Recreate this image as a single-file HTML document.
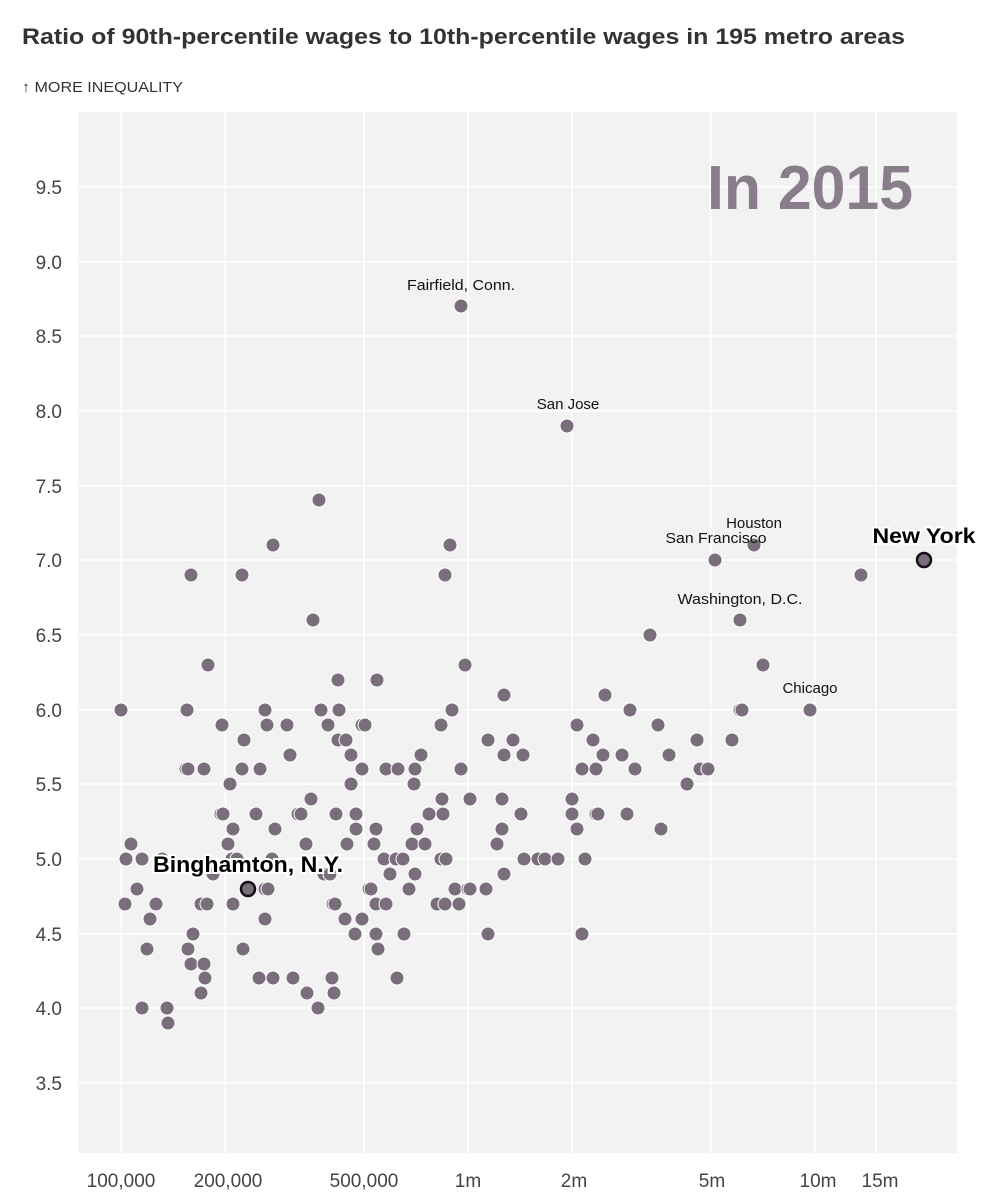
<!DOCTYPE html>
<html><head><meta charset="utf-8"><style>
body{margin:0;background:#fff}
svg{display:block}
text{font-family:"Liberation Sans",sans-serif}
.c circle{fill:#7b6e7c;stroke:#fff;stroke-width:1}
.yl{font-size:19px;fill:#444;text-anchor:end}
.xl{font-size:19px;fill:#444;text-anchor:middle}
.lb{font-size:15px;fill:#111;text-anchor:middle}
</style></head><body>
<svg width="981" height="1200" viewBox="0 0 981 1200">
<text x="22" y="44" font-size="22" font-weight="bold" fill="#333" textLength="883" lengthAdjust="spacingAndGlyphs">Ratio of 90th-percentile wages to 10th-percentile wages in 195 metro areas</text>
<text x="22" y="92" font-size="15" fill="#333" textLength="161" lengthAdjust="spacingAndGlyphs">↑ MORE INEQUALITY</text>
<rect x="78" y="112" width="879" height="1041" fill="#f2f2f2"/>
<g stroke="#fff" stroke-width="1.5">
<line x1="78" x2="957" y1="187" y2="187"/><line x1="78" x2="957" y1="262" y2="262"/><line x1="78" x2="957" y1="336" y2="336"/><line x1="78" x2="957" y1="411" y2="411"/><line x1="78" x2="957" y1="486" y2="486"/><line x1="78" x2="957" y1="560" y2="560"/><line x1="78" x2="957" y1="635" y2="635"/><line x1="78" x2="957" y1="710" y2="710"/><line x1="78" x2="957" y1="784" y2="784"/><line x1="78" x2="957" y1="859" y2="859"/><line x1="78" x2="957" y1="934" y2="934"/><line x1="78" x2="957" y1="1008" y2="1008"/><line x1="78" x2="957" y1="1083" y2="1083"/>
<line y1="112" y2="1153" x1="121" x2="121"/><line y1="112" y2="1153" x1="225.5" x2="225.5"/><line y1="112" y2="1153" x1="364" x2="364"/><line y1="112" y2="1153" x1="468" x2="468"/><line y1="112" y2="1153" x1="572" x2="572"/><line y1="112" y2="1153" x1="710.5" x2="710.5"/><line y1="112" y2="1153" x1="815" x2="815"/><line y1="112" y2="1153" x1="876" x2="876"/>
</g>
<g class="yl">
<text x="62" y="194">9.5</text><text x="62" y="269">9.0</text><text x="62" y="343">8.5</text><text x="62" y="418">8.0</text><text x="62" y="493">7.5</text><text x="62" y="567">7.0</text><text x="62" y="642">6.5</text><text x="62" y="717">6.0</text><text x="62" y="791">5.5</text><text x="62" y="866">5.0</text><text x="62" y="941">4.5</text><text x="62" y="1015">4.0</text><text x="62" y="1090">3.5</text>
</g>
<g class="xl">
<text x="121" y="1187">100,000</text><text x="228" y="1187">200,000</text><text x="364" y="1187">500,000</text><text x="468" y="1187">1m</text><text x="574" y="1187">2m</text><text x="712" y="1187">5m</text><text x="818" y="1187">10m</text><text x="880" y="1187">15m</text>
</g>
<text x="913" y="209" font-size="62" font-weight="bold" fill="#8a7d8b" text-anchor="end" textLength="206" lengthAdjust="spacingAndGlyphs">In 2015</text>
<g class="c">
<circle cx="461" cy="306" r="7"/><circle cx="567" cy="426" r="7"/><circle cx="319" cy="500" r="7"/>
<circle cx="273" cy="545" r="7"/><circle cx="450" cy="545" r="7"/><circle cx="754" cy="545" r="7"/>
<circle cx="715" cy="560" r="7"/>
<circle cx="191" cy="575" r="7"/><circle cx="242" cy="575" r="7"/><circle cx="445" cy="575" r="7"/><circle cx="861" cy="575" r="7"/>
<circle cx="313" cy="620" r="7"/><circle cx="740" cy="620" r="7"/><circle cx="650" cy="635" r="7"/>
<circle cx="208" cy="665" r="7"/><circle cx="465" cy="665" r="7"/><circle cx="763" cy="665" r="7"/>
<circle cx="338" cy="680" r="7"/><circle cx="377" cy="680" r="7"/><circle cx="504" cy="695" r="7"/><circle cx="605" cy="695" r="7"/>
<circle cx="121" cy="710" r="7"/><circle cx="187" cy="710" r="7"/><circle cx="265" cy="710" r="7"/><circle cx="321" cy="710" r="7"/><circle cx="339" cy="710" r="7"/><circle cx="452" cy="710" r="7"/><circle cx="630" cy="710" r="7"/><circle cx="740" cy="710" r="7"/><circle cx="742" cy="710" r="7"/><circle cx="810" cy="710" r="7"/>
<circle cx="222" cy="725" r="7"/><circle cx="267" cy="725" r="7"/><circle cx="287" cy="725" r="7"/><circle cx="328" cy="725" r="7"/><circle cx="362" cy="725" r="7"/><circle cx="365" cy="725" r="7"/><circle cx="441" cy="725" r="7"/><circle cx="577" cy="725" r="7"/><circle cx="658" cy="725" r="7"/>
<circle cx="244" cy="740" r="7"/><circle cx="338" cy="740" r="7"/><circle cx="346" cy="740" r="7"/><circle cx="488" cy="740" r="7"/><circle cx="513" cy="740" r="7"/><circle cx="593" cy="740" r="7"/><circle cx="697" cy="740" r="7"/><circle cx="732" cy="740" r="7"/>
<circle cx="290" cy="755" r="7"/><circle cx="351" cy="755" r="7"/><circle cx="421" cy="755" r="7"/><circle cx="504" cy="755" r="7"/><circle cx="523" cy="755" r="7"/><circle cx="603" cy="755" r="7"/><circle cx="622" cy="755" r="7"/><circle cx="669" cy="755" r="7"/>
<circle cx="186" cy="769" r="7"/><circle cx="188" cy="769" r="7"/><circle cx="204" cy="769" r="7"/><circle cx="242" cy="769" r="7"/><circle cx="260" cy="769" r="7"/><circle cx="362" cy="769" r="7"/><circle cx="386" cy="769" r="7"/><circle cx="398" cy="769" r="7"/><circle cx="415" cy="769" r="7"/><circle cx="461" cy="769" r="7"/><circle cx="582" cy="769" r="7"/><circle cx="596" cy="769" r="7"/><circle cx="635" cy="769" r="7"/><circle cx="700" cy="769" r="7"/><circle cx="708" cy="769" r="7"/>
<circle cx="230" cy="784" r="7"/><circle cx="351" cy="784" r="7"/><circle cx="414" cy="784" r="7"/><circle cx="687" cy="784" r="7"/>
<circle cx="311" cy="799" r="7"/><circle cx="442" cy="799" r="7"/><circle cx="470" cy="799" r="7"/><circle cx="502" cy="799" r="7"/><circle cx="572" cy="799" r="7"/>
<circle cx="221" cy="814" r="7"/><circle cx="223" cy="814" r="7"/><circle cx="256" cy="814" r="7"/><circle cx="298" cy="814" r="7"/><circle cx="301" cy="814" r="7"/><circle cx="336" cy="814" r="7"/><circle cx="356" cy="814" r="7"/><circle cx="429" cy="814" r="7"/><circle cx="443" cy="814" r="7"/><circle cx="521" cy="814" r="7"/><circle cx="572" cy="814" r="7"/><circle cx="596" cy="814" r="7"/><circle cx="598" cy="814" r="7"/><circle cx="627" cy="814" r="7"/>
<circle cx="233" cy="829" r="7"/><circle cx="275" cy="829" r="7"/><circle cx="356" cy="829" r="7"/><circle cx="376" cy="829" r="7"/><circle cx="417" cy="829" r="7"/><circle cx="502" cy="829" r="7"/><circle cx="577" cy="829" r="7"/><circle cx="661" cy="829" r="7"/>
<circle cx="131" cy="844" r="7"/><circle cx="228" cy="844" r="7"/><circle cx="306" cy="844" r="7"/><circle cx="347" cy="844" r="7"/><circle cx="374" cy="844" r="7"/><circle cx="412" cy="844" r="7"/><circle cx="425" cy="844" r="7"/><circle cx="497" cy="844" r="7"/>
<circle cx="126" cy="859" r="7"/><circle cx="142" cy="859" r="7"/><circle cx="162" cy="859" r="7"/><circle cx="232" cy="859" r="7"/><circle cx="237" cy="859" r="7"/><circle cx="272" cy="859" r="7"/><circle cx="384" cy="859" r="7"/><circle cx="396" cy="859" r="7"/><circle cx="403" cy="859" r="7"/><circle cx="441" cy="859" r="7"/><circle cx="446" cy="859" r="7"/><circle cx="524" cy="859" r="7"/><circle cx="538" cy="859" r="7"/><circle cx="545" cy="859" r="7"/><circle cx="558" cy="859" r="7"/><circle cx="585" cy="859" r="7"/>
<circle cx="213" cy="874" r="7"/><circle cx="324" cy="874" r="7"/><circle cx="330" cy="874" r="7"/><circle cx="390" cy="874" r="7"/><circle cx="415" cy="874" r="7"/><circle cx="504" cy="874" r="7"/>
<circle cx="137" cy="889" r="7"/><circle cx="265" cy="889" r="7"/><circle cx="268" cy="889" r="7"/><circle cx="369" cy="889" r="7"/><circle cx="371" cy="889" r="7"/><circle cx="409" cy="889" r="7"/><circle cx="455" cy="889" r="7"/><circle cx="468" cy="889" r="7"/><circle cx="470" cy="889" r="7"/><circle cx="486" cy="889" r="7"/>
<circle cx="125" cy="904" r="7"/><circle cx="156" cy="904" r="7"/><circle cx="201" cy="904" r="7"/><circle cx="207" cy="904" r="7"/><circle cx="233" cy="904" r="7"/><circle cx="333" cy="904" r="7"/><circle cx="335" cy="904" r="7"/><circle cx="376" cy="904" r="7"/><circle cx="386" cy="904" r="7"/><circle cx="437" cy="904" r="7"/><circle cx="445" cy="904" r="7"/><circle cx="459" cy="904" r="7"/>
<circle cx="150" cy="919" r="7"/><circle cx="265" cy="919" r="7"/><circle cx="345" cy="919" r="7"/><circle cx="362" cy="919" r="7"/>
<circle cx="193" cy="934" r="7"/><circle cx="355" cy="934" r="7"/><circle cx="376" cy="934" r="7"/><circle cx="404" cy="934" r="7"/><circle cx="488" cy="934" r="7"/><circle cx="582" cy="934" r="7"/>
<circle cx="147" cy="949" r="7"/><circle cx="188" cy="949" r="7"/><circle cx="243" cy="949" r="7"/><circle cx="378" cy="949" r="7"/>
<circle cx="191" cy="964" r="7"/><circle cx="204" cy="964" r="7"/>
<circle cx="205" cy="978" r="7"/><circle cx="259" cy="978" r="7"/><circle cx="273" cy="978" r="7"/><circle cx="293" cy="978" r="7"/><circle cx="332" cy="978" r="7"/><circle cx="397" cy="978" r="7"/>
<circle cx="201" cy="993" r="7"/><circle cx="307" cy="993" r="7"/><circle cx="334" cy="993" r="7"/>
<circle cx="142" cy="1008" r="7"/><circle cx="167" cy="1008" r="7"/><circle cx="318" cy="1008" r="7"/><circle cx="168" cy="1023" r="7"/>
</g>
<circle cx="924" cy="560" r="7" fill="#7b6e7c" stroke="#111" stroke-width="2.5"/>
<circle cx="248" cy="889" r="7" fill="#7b6e7c" stroke="#111" stroke-width="2.5"/>
<g class="lb">
<text x="461" y="290" textLength="108" lengthAdjust="spacingAndGlyphs">Fairfield, Conn.</text><text x="568" y="409">San Jose</text><text x="754" y="528">Houston</text><text x="716" y="543" textLength="101" lengthAdjust="spacingAndGlyphs">San Francisco</text><text x="740" y="604" textLength="125" lengthAdjust="spacingAndGlyphs">Washington, D.C.</text><text x="810" y="693">Chicago</text>
</g>
<text x="924" y="543" font-size="21" font-weight="bold" fill="#000" text-anchor="middle" stroke="#fff" stroke-width="4" paint-order="stroke" textLength="103" lengthAdjust="spacingAndGlyphs">New York</text>
<text x="248" y="872" font-size="22" font-weight="bold" fill="#000" text-anchor="middle" stroke="#fff" stroke-width="4" paint-order="stroke" textLength="190" lengthAdjust="spacingAndGlyphs">Binghamton, N.Y.</text>
</svg>
</body></html>
